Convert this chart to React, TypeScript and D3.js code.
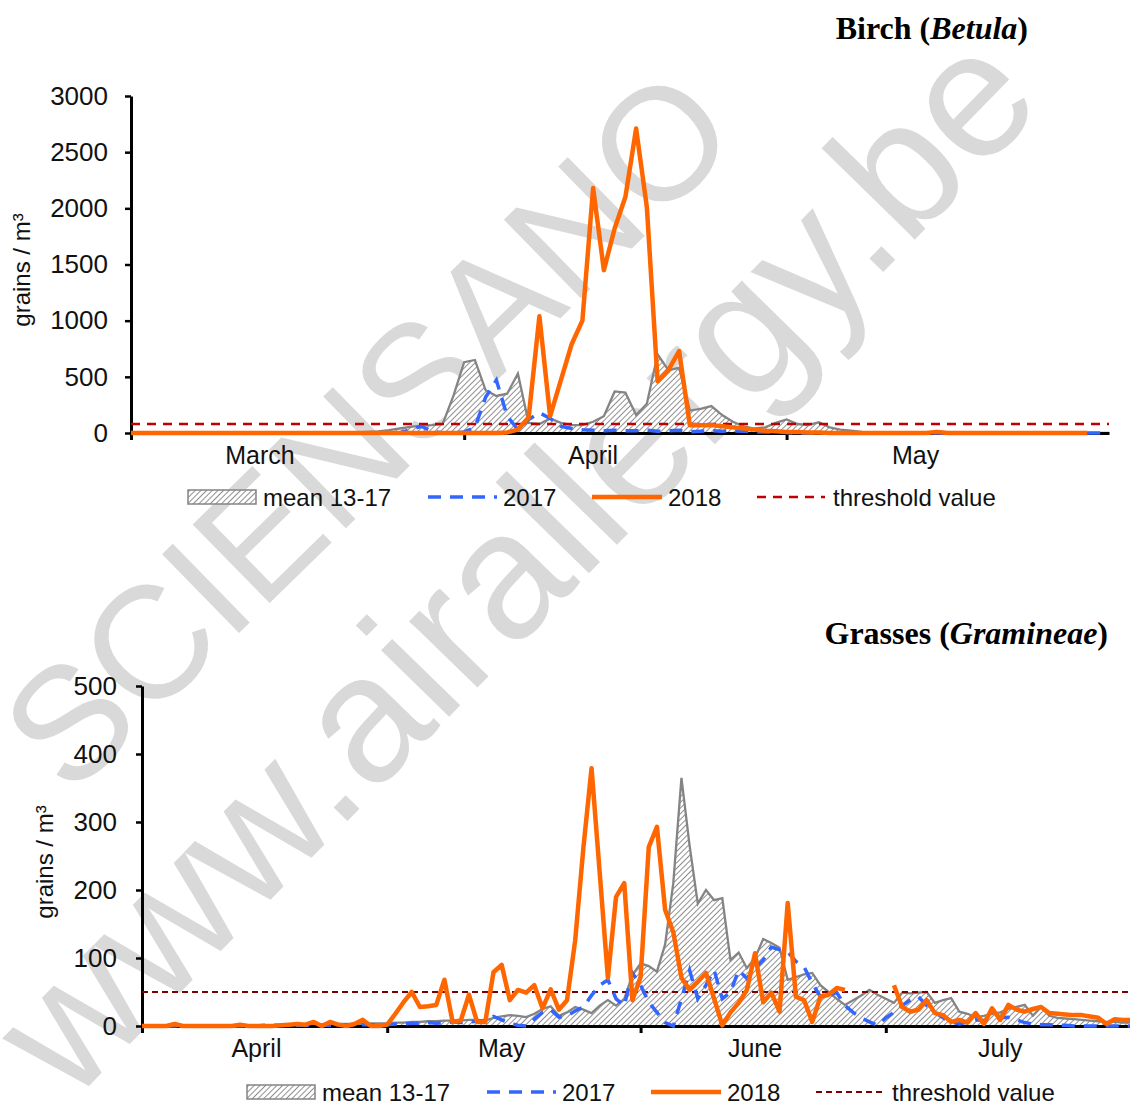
import React, { useEffect, useRef } from 'react';
import * as d3 from 'd3';

// Birch (Betula): daily values from 1 March to 31 May
const birchMonths = ['March', 'April', 'May'];
const birchTicks = [0, 500, 1000, 1500, 2000, 2500, 3000];
const birchThreshold = 80;
const birchMean = [
  0, 0, 0, 0, 0, 0, 0, 0, 0, 0,
  0, 0, 0, 0, 0, 0, 0, 0, 0, 0,
  3, 5, 10, 15, 25, 40, 55, 65, 70, 80,
  330, 630, 650, 380, 330, 350, 530, 90, 80, 130,
  90, 70, 70, 100, 150, 370, 360, 160, 260, 700,
  560, 580, 200, 215, 240, 160, 100, 60, 40, 50,
  90, 120, 80, 70, 95, 50, 30, 20, 10, 5,
  0, 0, 0, 0, 0, 0, 0, 0, 0, 0,
  0, 0, 0, 0, 0, 0, 0, 0, 0, 0,
  0, 0,
];
const birch2017 = [
  0, 0, 0, 0, 0, 0, 0, 0, 0, 0,
  0, 0, 0, 0, 0, 0, 0, 0, 0, 0,
  0, 0, 0, 0, 0, 0, 30, 60, 15, 0,
  0, 10, 50, 320, 470, 150, 30, 120, 180, 130,
  60, 40, 30, 25, 20, 25, 20, 20, 25, 15,
  20, 25, 10, 15, 20, 15, 20, 15, 10, 10,
  8, 5, 0, 0, 0, 0, 0, 0, 0, 0,
  0, 0, 0, 0, 0, 0, 0, 0, 0, 0,
  0, 0, 0, 0, 0, 0, 0, 0, 0, 0,
  0, 0,
];
const birch2018 = [
  0, 0, 0, 0, 0, 0, 0, 0, 0, 0,
  0, 0, 0, 0, 0, 0, 0, 0, 0, 0,
  0, 0, 0, 0, 0, 0, 0, 0, 0, 0,
  0, 0, 0, 0, 0, 5, 30, 140, 1040, 150,
  470, 790, 1000, 2180, 1450, 1820, 2100, 2710, 2010, 460,
  560, 730, 70, 70, 70, 60, 50, 40, 30, 20,
  15, 10, 10, 5, 5, 0, 0, 0, 0, 0,
  0, 0, 0, 0, 0, 10, 0, 0, 0, 0,
  0, 0, 0, 0, 0, 0, 0, 0, 0, 0,
];

// Grasses (Gramineae): daily values from 1 April to 31 July
const grassMonths = ['April', 'May', 'June', 'July'];
const grassTicks = [0, 100, 200, 300, 400, 500];
const grassThreshold = 50;
const grassMean = [
  0, 0, 0, 0, 0, 0, 0, 0, 0, 0,
  0, 0, 1, 1, 1, 1, 1, 1, 2, 2,
  2, 2, 2, 3, 3, 3, 3, 3, 4, 4,
  4, 5, 5, 6, 6, 7, 7, 8, 8, 8,
  9, 9, 8, 12, 14, 16, 15, 13, 18, 25,
  29, 15, 20, 28, 24, 19, 30, 38, 30, 40,
  75, 92, 88, 80, 120, 210, 365, 265, 180, 200,
  185, 188, 97, 108, 85, 100, 128, 122, 115, 68,
  72, 76, 78, 60, 50, 40, 31, 38, 45, 53,
  46, 40, 34, 49, 48, 49, 50, 34, 38, 41,
  21, 18, 13, 15, 18, 20, 25, 28, 31, 15,
  28, 15, 12, 11, 10, 9, 8, 7, 6, 6,
  5, 5,
];
const grass2017 = [
  0, 0, 0, 0, 0, 0, 0, 0, 0, 0,
  0, 0, 0, 0, 0, 1, 1, 1, 1, 1,
  1, 1, 1, 1, 2, 2, 2, 2, 2, 2,
  2, 3, 3, 4, 4, 5, 4, 5, 6, 5,
  6, 7, 8, 14, 9, 4, 1, 0, 10, 20,
  24, 13, 15, 22, 28, 45, 60, 68, 40, 30,
  78, 60, 35, 20, 5, 0, 40, 82, 40, 60,
  82, 40, 50, 82, 70, 85, 97, 116, 112, 109,
  95, 87, 63, 43, 45, 49, 30, 20, 12, 6,
  1, 12, 20, 30, 38, 43, 30, 20, 12, 6,
  3, 6, 9, 8, 10, 12, 13, 9, 5, 3,
  2, 2, 1, 1, 0, 0, 0, 0, 0, 0,
  0, 0,
];
const grass2018 = [
  0, 0, 0, 0, 3, 0, 0, 0, 0, 0,
  0, 0, 2, 0, 0, 0, 0, 1, 2, 3,
  2, 6, 0, 6, 2, 0, 3, 9, 0, 0,
  2, 18, 35, 50, 28, 29, 31, 68, 6, 8,
  46, 6, 6, 79, 90, 38, 53, 49, 60, 26,
  54, 24, 38, 126, 262, 379, 225, 71, 190, 210,
  38, 72, 263, 293, 171, 138, 71, 53, 65, 78,
  40, 1, 20, 34, 53, 107, 35, 49, 21, 181,
  43, 38, 6, 43, 46, 56, 53, null, null, null,
  null, null, 60, 28, 21, 24, 38, 19, 16, 6,
  9, 5, 19, 3, 26, 9, 31, 24, 21, 25,
  28, 19, 18, 17, 16, 16, 14, 12, 3, 10,
  9, 9,
];

const legendLabels = ['mean 13-17', '2017', '2018', 'threshold value'];

const SANS = "'Liberation Sans', Arial, sans-serif";
const SERIF = "'Liberation Serif', 'Times New Roman', serif";
const ORANGE = '#ff6600';
const BLUE = '#3366ff';

interface Panel {
  title: string;
  latin: string;
  start: Date;
  months: string[];
  ticks: number[];
  threshold: number;
  mean: number[];
  y2017: number[];
  y2018: (number | null)[];
  x0: number;
  x1: number;
  yBottom: number;
  yTop: number;
  tickPad: number;
  labelShift: number;
  thrColor: string;
  thrDash: string;
  thrWidth: number;
  titleX: number;
  titleY: number;
  yLabelX: number;
  yLabelY: number;
  legendX: number;
  legendY: number;
}

const panels: Panel[] = [
  {
    title: 'Birch', latin: 'Betula', start: new Date(Date.UTC(2018, 2, 1)),
    months: birchMonths, ticks: birchTicks, threshold: birchThreshold,
    mean: birchMean, y2017: birch2017, y2018: birch2018,
    x0: 131, x1: 1109, yBottom: 433, yTop: 96, tickPad: 17, labelShift: 12,
    thrColor: '#c00000', thrDash: '9,7', thrWidth: 2.5,
    titleX: 1028, titleY: 39, yLabelX: 30, yLabelY: 270, legendX: 188, legendY: 497,
  },
  {
    title: 'Grasses', latin: 'Gramineae', start: new Date(Date.UTC(2018, 3, 1)),
    months: grassMonths, ticks: grassTicks, threshold: grassThreshold,
    mean: grassMean, y2017: grass2017, y2018: grass2018,
    x0: 142, x1: 1131, yBottom: 1026, yTop: 686, tickPad: 19, labelShift: 14,
    thrColor: '#7f0000', thrDash: '6,4', thrWidth: 2,
    titleX: 1108, titleY: 644, yLabelX: 53, yLabelY: 862, legendX: 247, legendY: 1092,
  },
];

function drawPanel(svg: d3.Selection<SVGSVGElement, unknown, null, undefined>, p: Panel) {
  const g = svg.append('g');
  const day = (i: number) => d3.utcDay.offset(p.start, i);
  const end = day(p.mean.length - 1);
  const x = d3.scaleUtc().domain([p.start, end]).range([p.x0, p.x1]);
  const y = d3.scaleLinear().domain([0, p.ticks[p.ticks.length - 1]]).range([p.yBottom, p.yTop]);

  // mean 13-17 as hatched area
  g.append('path')
    .datum(p.mean)
    .attr('fill', 'url(#hatch)')
    .attr('d', d3.area<number>().x((_, i) => x(day(i))).y0(y(0)).y1((d) => y(d)));
  g.append('path')
    .datum(p.mean)
    .attr('fill', 'none')
    .attr('stroke', '#848484')
    .attr('stroke-width', 2.3)
    .attr('d', d3.line<number>().x((_, i) => x(day(i))).y((d) => y(d)));

  // x axis, ticks at month starts
  const monthStarts = d3.utcMonth.range(p.start, d3.utcDay.offset(end, 1));
  const xAxis = g.append('g')
    .attr('transform', `translate(0,${y(0)})`)
    .call(d3.axisBottom(x).tickValues(monthStarts).tickSize(7).tickSizeOuter(0).tickFormat(() => ''));
  xAxis.select('.domain').attr('stroke', '#000').attr('stroke-width', 3);
  xAxis.selectAll('.tick line').attr('stroke', '#000').attr('stroke-width', 3);

  // y axis
  const yAxis = g.append('g')
    .attr('transform', `translate(${p.x0},0)`)
    .call(d3.axisLeft(y).tickValues(p.ticks).tickSize(6).tickSizeOuter(0)
      .tickPadding(p.tickPad).tickFormat(d3.format('d')));
  yAxis.select('.domain').attr('stroke', '#000').attr('stroke-width', 3);
  yAxis.selectAll('.tick line').attr('stroke', '#000').attr('stroke-width', 2.5);
  yAxis.selectAll('.tick text')
    .attr('font-family', SANS)
    .attr('font-size', 26)
    .attr('fill', '#111');

  // month labels
  g.selectAll('.month')
    .data(monthStarts)
    .join('text')
    .attr('x', (d) => x(d3.utcDay.offset(d, p.labelShift)))
    .attr('y', y(0) + 31)
    .attr('text-anchor', 'middle')
    .attr('font-family', SANS)
    .attr('font-size', 25)
    .attr('fill', '#111')
    .text((_, i) => p.months[i]);

  // threshold
  g.append('path')
    .datum([p.start, end])
    .attr('fill', 'none')
    .attr('stroke', p.thrColor)
    .attr('stroke-width', p.thrWidth)
    .attr('stroke-dasharray', p.thrDash)
    .attr('d', d3.line<Date>().x((d) => x(d)).y(() => y(p.threshold)));

  // 2017
  g.append('path')
    .datum(p.y2017)
    .attr('fill', 'none')
    .attr('stroke', BLUE)
    .attr('stroke-width', 3.5)
    .attr('stroke-dasharray', '13,9')
    .attr('d', d3.line<number>().x((_, i) => x(day(i))).y((d) => y(d)));

  // 2018
  g.append('path')
    .datum(p.y2018)
    .attr('fill', 'none')
    .attr('stroke', ORANGE)
    .attr('stroke-width', 4.5)
    .attr('stroke-linejoin', 'round')
    .attr('d', d3.line<number | null>()
      .defined((d) => d != null)
      .x((_, i) => x(day(i)))
      .y((d) => y(d as number)));

  // title
  const title = g.append('text')
    .attr('x', p.titleX)
    .attr('y', p.titleY)
    .attr('text-anchor', 'end')
    .attr('font-family', SERIF)
    .attr('font-weight', 'bold')
    .attr('font-size', 32);
  title.append('tspan').text(`${p.title} (`);
  title.append('tspan').attr('font-style', 'italic').text(p.latin);
  title.append('tspan').text(')');

  // y label
  g.append('text')
    .attr('transform', `translate(${p.yLabelX},${p.yLabelY}) rotate(-90)`)
    .attr('text-anchor', 'middle')
    .attr('font-family', SANS)
    .attr('font-size', 24)
    .attr('fill', '#111')
    .text('grains / m³');

  // legend
  const lg = g.append('g').attr('transform', `translate(${p.legendX},${p.legendY})`);
  lg.append('rect')
    .attr('x', 0).attr('y', -7).attr('width', 68).attr('height', 14)
    .attr('fill', 'url(#hatch)').attr('stroke', '#848484').attr('stroke-width', 1.5);
  lg.append('line').attr('x1', 240).attr('x2', 309).attr('stroke', BLUE)
    .attr('stroke-width', 3.5).attr('stroke-dasharray', '13,9');
  lg.append('line').attr('x1', 404).attr('x2', 474).attr('stroke', ORANGE).attr('stroke-width', 4.5);
  lg.append('line').attr('x1', 569).attr('x2', 637).attr('stroke', p.thrColor)
    .attr('stroke-width', p.thrWidth).attr('stroke-dasharray', p.thrDash);
  const textX = [75, 315, 480, 645];
  lg.selectAll('.lt')
    .data(legendLabels)
    .join('text')
    .attr('x', (_, i) => textX[i])
    .attr('y', 0)
    .attr('dy', '0.36em')
    .attr('font-family', SANS)
    .attr('font-size', 24)
    .attr('fill', '#111')
    .text((d) => d);
}

const App: React.FC = () => {
  const svgRef = useRef<SVGSVGElement>(null);

  useEffect(() => {
    if (!svgRef.current) return;
    const svg = d3.select(svgRef.current);
    svg.selectAll('*').remove();

    const defs = svg.append('defs');
    const pat = defs.append('pattern')
      .attr('id', 'hatch')
      .attr('patternUnits', 'userSpaceOnUse')
      .attr('width', 4)
      .attr('height', 4)
      .attr('patternTransform', 'rotate(45)');
    pat.append('rect').attr('width', 4).attr('height', 4).attr('fill', '#fff');
    pat.append('line').attr('x1', 0).attr('y1', 0).attr('x2', 0).attr('y2', 4)
      .attr('stroke', '#444').attr('stroke-width', 1.2);

    // watermark
    const wm = svg.append('g').attr('fill', '#d9d9d9').attr('font-family', SANS).attr('text-anchor', 'middle');
    wm.append('text')
      .attr('transform', 'translate(366,428) rotate(-44.4)')
      .attr('dy', '0.36em')
      .attr('font-size', 160)
      .text('SCIENSANO');
    wm.append('text')
      .attr('transform', 'translate(525,572) rotate(-45.7)')
      .attr('dy', '0.26em')
      .attr('font-size', 180)
      .text('www.airallergy.be');

    panels.forEach((p) => drawPanel(svg, p));
  }, []);

  return (
    <svg
      ref={svgRef}
      width={1130}
      height={1104}
      style={{ position: 'absolute', left: 0, top: 0, background: '#fff' }}
    />
  );
};

export default App;
